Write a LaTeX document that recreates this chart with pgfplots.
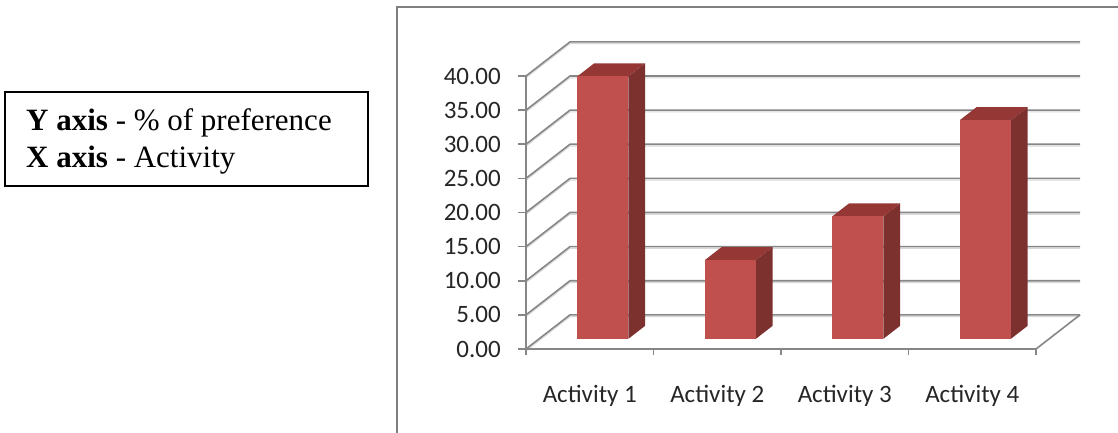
\documentclass[border=0pt]{standalone}
\usepackage{fontspec}
\setmainfont{Liberation Serif}
\newfontfamily\calibri{Carlito}
\usepackage{pgfplots}
\pgfplotsset{compat=1.18}
\usepackage{pgfplotstable}

\definecolor{barfront}{RGB}{192,80,77}
\definecolor{barside}{RGB}{124,49,47}
\definecolor{bartop}{RGB}{148,55,53}
\definecolor{gridgray}{RGB}{134,134,134}
\definecolor{gridshadow}{RGB}{215,215,215}
\definecolor{framegray}{RGB}{128,128,128}

% share of preference per activity (%)
\pgfplotstableread{
cat val
1 38.46
2 11.54
3 17.95
4 32.05
}\shares

\begin{document}
\begin{tikzpicture}

% chart area border
\draw[framegray, line width=2pt] (397pt,-10pt) -- (397pt,426pt) -- (1130pt,426pt);

% key to the axes
\draw[black, line width=1.3pt] (5pt,247pt) rectangle (368pt,341pt);
\node[anchor=base west, inner sep=0pt, font=\fontsize{31}{36}\selectfont] at (26pt,302pt) {\textbf{Y axis} - \% of preference};
\node[anchor=base west, inner sep=0pt, font=\fontsize{31}{36}\selectfont] at (26pt,265pt) {\textbf{X axis} - Activity};

\begin{axis}[
  at={(526pt,84pt)}, anchor=south west,
  scale only axis, width=554pt, height=307.1pt,
  xmin=0.5, xmax=4.845, ymin=0, ymax=45,
  clip=false,
  axis line style={draw=none}, tick style={draw=none},
  xtick pos=bottom, ytick pos=left,
  xtick={1,2,3,4},
  xticklabels={Activity 1,Activity 2,Activity 3,Activity 4},
  ytick={0,5,...,40},
  ticklabel style={font=\calibri\fontsize{25}{25}\selectfont, inner sep=0pt, text=black!85},
  yticklabel style={anchor=east, xshift=-25pt,
    /pgf/number format/.cd, fixed, fixed zerofill, precision=2, assume math mode=true},
  xticklabel style={anchor=base, yshift=-53pt},
]

% side wall and back wall gridlines
\pgfplotsinvokeforeach{0,5,...,40}{
  \draw[gridshadow, line width=1pt] ([yshift=-1.8pt]axis cs:0.5,#1) -- ([yshift=-1.8pt]axis cs:0.845,{#1+5}) -- ([yshift=-1.8pt]axis cs:4.845,{#1+5});
  \draw[gridgray, line width=1.6pt] (axis cs:0.5,#1) -- (axis cs:0.845,{#1+5}) -- (axis cs:4.845,{#1+5});
  \draw[gridgray, line width=1.6pt] (axis cs:0.5,#1) -- ++(-8pt,0pt);
}
% value axis and floor edges
\draw[gridgray, line width=1.6pt] (axis cs:0.5,0) -- (axis cs:0.5,40);
\draw[gridgray, line width=1.6pt] (axis cs:0.5,0) -- (axis cs:4.5,0) -- (axis cs:4.845,5);
\pgfplotsinvokeforeach{0.5,1.5,2.5,3.5,4.5}{
  \draw[gridgray, line width=1.6pt] (axis cs:#1,0) -- ++(0pt,-6pt);
}

% 3-D columns: side, top and front faces
\pgfplotsinvokeforeach{0,...,3}{
  \pgfplotstablegetelem{#1}{val}\of\shares
  \pgfmathsetmacro\v{\pgfplotsretval}
  \pgfmathsetmacro\xa{#1+1-0.2+0.1035}
  \pgfmathsetmacro\xb{\xa+0.4}
  \pgfmathsetmacro\xc{\xb+0.131}
  \pgfmathsetmacro\xd{\xa+0.131}
  \pgfmathsetmacro\yt{\v+1.5}
  \pgfmathsetmacro\ytb{\v+3.4}
  \edef\temp{%
    \noexpand\addplot[fill=barside, draw=none, mark=none] coordinates {(\xb,1.5) (\xc,3.4) (\xc,\ytb) (\xb,\yt)};
    \noexpand\addplot[fill=bartop, draw=none, mark=none] coordinates {(\xa,\yt) (\xb,\yt) (\xc,\ytb) (\xd,\ytb)};
    \noexpand\addplot[fill=barfront, draw=none, mark=none] coordinates {(\xa,1.5) (\xb,1.5) (\xb,\yt) (\xa,\yt)};
  }\temp
}
\end{axis}

\pgfresetboundingbox
\useasboundingbox (0pt,0pt) rectangle (1118pt,433pt);
\end{tikzpicture}
\end{document}
